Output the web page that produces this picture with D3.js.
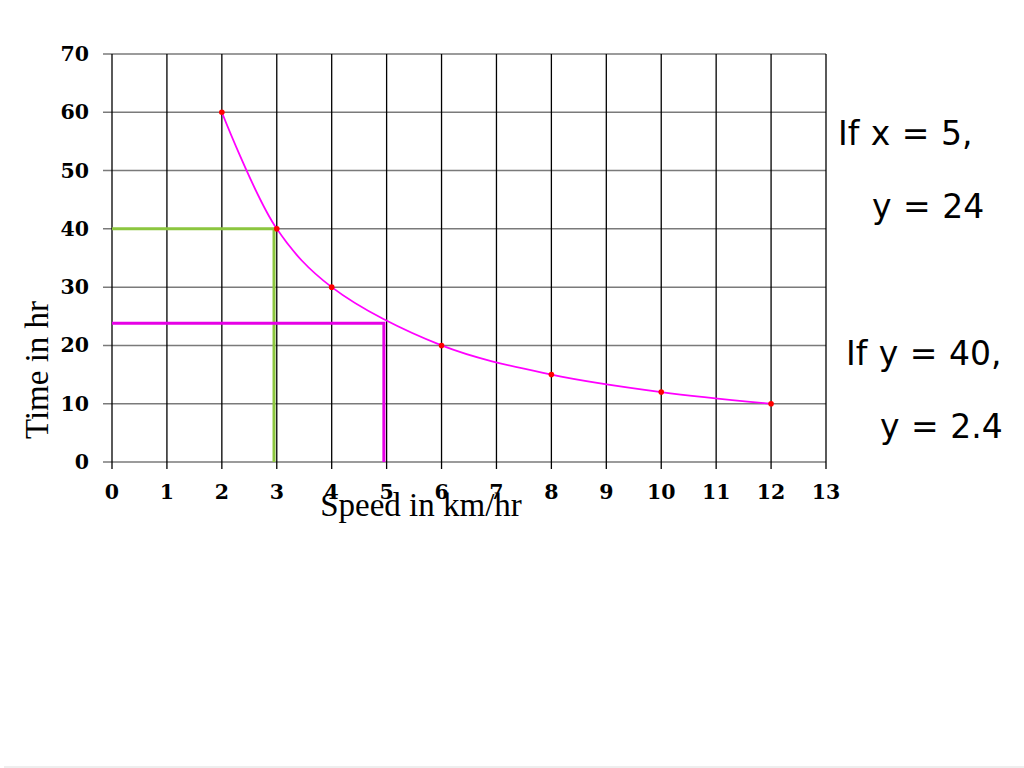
<!DOCTYPE html>
<html><head><meta charset="utf-8">
<script src="https://cdn.jsdelivr.net/npm/d3@7"></script>
<style>
html,body{margin:0;padding:0;background:#fff;}
svg{display:block;}
</style></head>
<body>
<svg id="chart" width="1024" height="768"></svg>
<script>
// Data
const speeds = [2, 3, 4, 6, 8, 10, 12];
const times  = [60, 40, 30, 20, 15, 12, 10];
const xTicks = [0,1,2,3,4,5,6,7,8,9,10,11,12,13];
const yTicks = [0,10,20,30,40,50,60,70];
const greenGuide = {x: 2.95, y: 40};
const magentaGuide = {x: 4.95, y: 23.8};
const notes = ["If x = 5,", "y = 24", "If y = 40,", "y = 2.4"];
const xTitle = "Speed in km/hr";
const yTitle = "Time in hr";

const svg = d3.select("#chart");
const x = d3.scaleLinear().domain([0,13]).range([112,826]);
const y = d3.scaleLinear().domain([0,70]).range([462,54]);

const tickFont = "'DejaVu Serif','Liberation Serif',serif";

// horizontal gridlines (gray), extending left as ticks
svg.append("g").selectAll("line").data(yTicks).join("line")
  .attr("x1", 103).attr("x2", x(13))
  .attr("y1", d=>y(d)).attr("y2", d=>y(d))
  .attr("stroke", "#7a7a7a").attr("stroke-width", 1.5);

// vertical gridlines (black) with ticks below
svg.append("g").selectAll("line").data(xTicks).join("line")
  .attr("x1", d=>x(d)).attr("x2", d=>x(d))
  .attr("y1", y(70)).attr("y2", 469)
  .attr("stroke", "#000").attr("stroke-width", 1.3);

// axis labels
svg.append("g").selectAll("text").data(yTicks).join("text")
  .attr("x", 89).attr("y", d=>y(d)+7)
  .attr("text-anchor","end")
  .attr("font-family",tickFont)
  .attr("font-weight","bold").attr("font-size",20.5)
  .text(d=>d);
svg.append("g").selectAll("text").data(xTicks).join("text")
  .attr("x", d=>x(d)).attr("y", 499)
  .attr("text-anchor","middle")
  .attr("font-family",tickFont)
  .attr("font-weight","bold").attr("font-size",20.5)
  .text(d=>d);

// guide lines
const drawGuide = (g, color) => {
  svg.append("path")
    .attr("d", `M${x(0)},${y(g.y)}H${x(g.x)}V${y(0)}`)
    .attr("fill","none").attr("stroke",color).attr("stroke-width",3);
};
drawGuide(greenGuide, "#8cc63f");
drawGuide(magentaGuide, "#e600e6");

// curve
const pts = speeds.map((s,i)=>[s,times[i]]);
svg.append("path").datum(pts)
  .attr("d", d3.line().x(d=>x(d[0])).y(d=>y(d[1])).curve(d3.curveCatmullRom.alpha(0.5)))
  .attr("fill","none").attr("stroke","#ff00ff").attr("stroke-width",1.8);

svg.append("g").selectAll("circle").data(pts).join("circle")
  .attr("cx", d=>x(d[0])).attr("cy", d=>y(d[1])).attr("r", 2.8)
  .attr("fill","#ff0000");

// axis titles
svg.append("text").attr("x", 421).attr("y", 516)
  .attr("text-anchor","middle")
  .attr("font-family","'Liberation Serif','Times New Roman',serif")
  .attr("font-size",33).text(xTitle);
svg.append("text")
  .attr("transform","translate(48,370) rotate(-90)")
  .attr("text-anchor","middle")
  .attr("font-family","'Liberation Serif','Times New Roman',serif")
  .attr("font-size",33).text(yTitle);

// notes
const notePos = [[838,145],[872,218],[846,365],[880,438]];
svg.append("g").selectAll("text").data(notes).join("text")
  .attr("x",(d,i)=>notePos[i][0]).attr("y",(d,i)=>notePos[i][1])
  .attr("font-family","'DejaVu Sans','Noto Sans',sans-serif")
  .attr("font-size",33).attr("word-spacing",1).text(d=>d);

// faint slide edge
svg.append("line").attr("x1",4).attr("x2",1024).attr("y1",767).attr("y2",767)
  .attr("stroke","#e8e8e8").attr("stroke-width",1.5);
</script>
</body></html>
